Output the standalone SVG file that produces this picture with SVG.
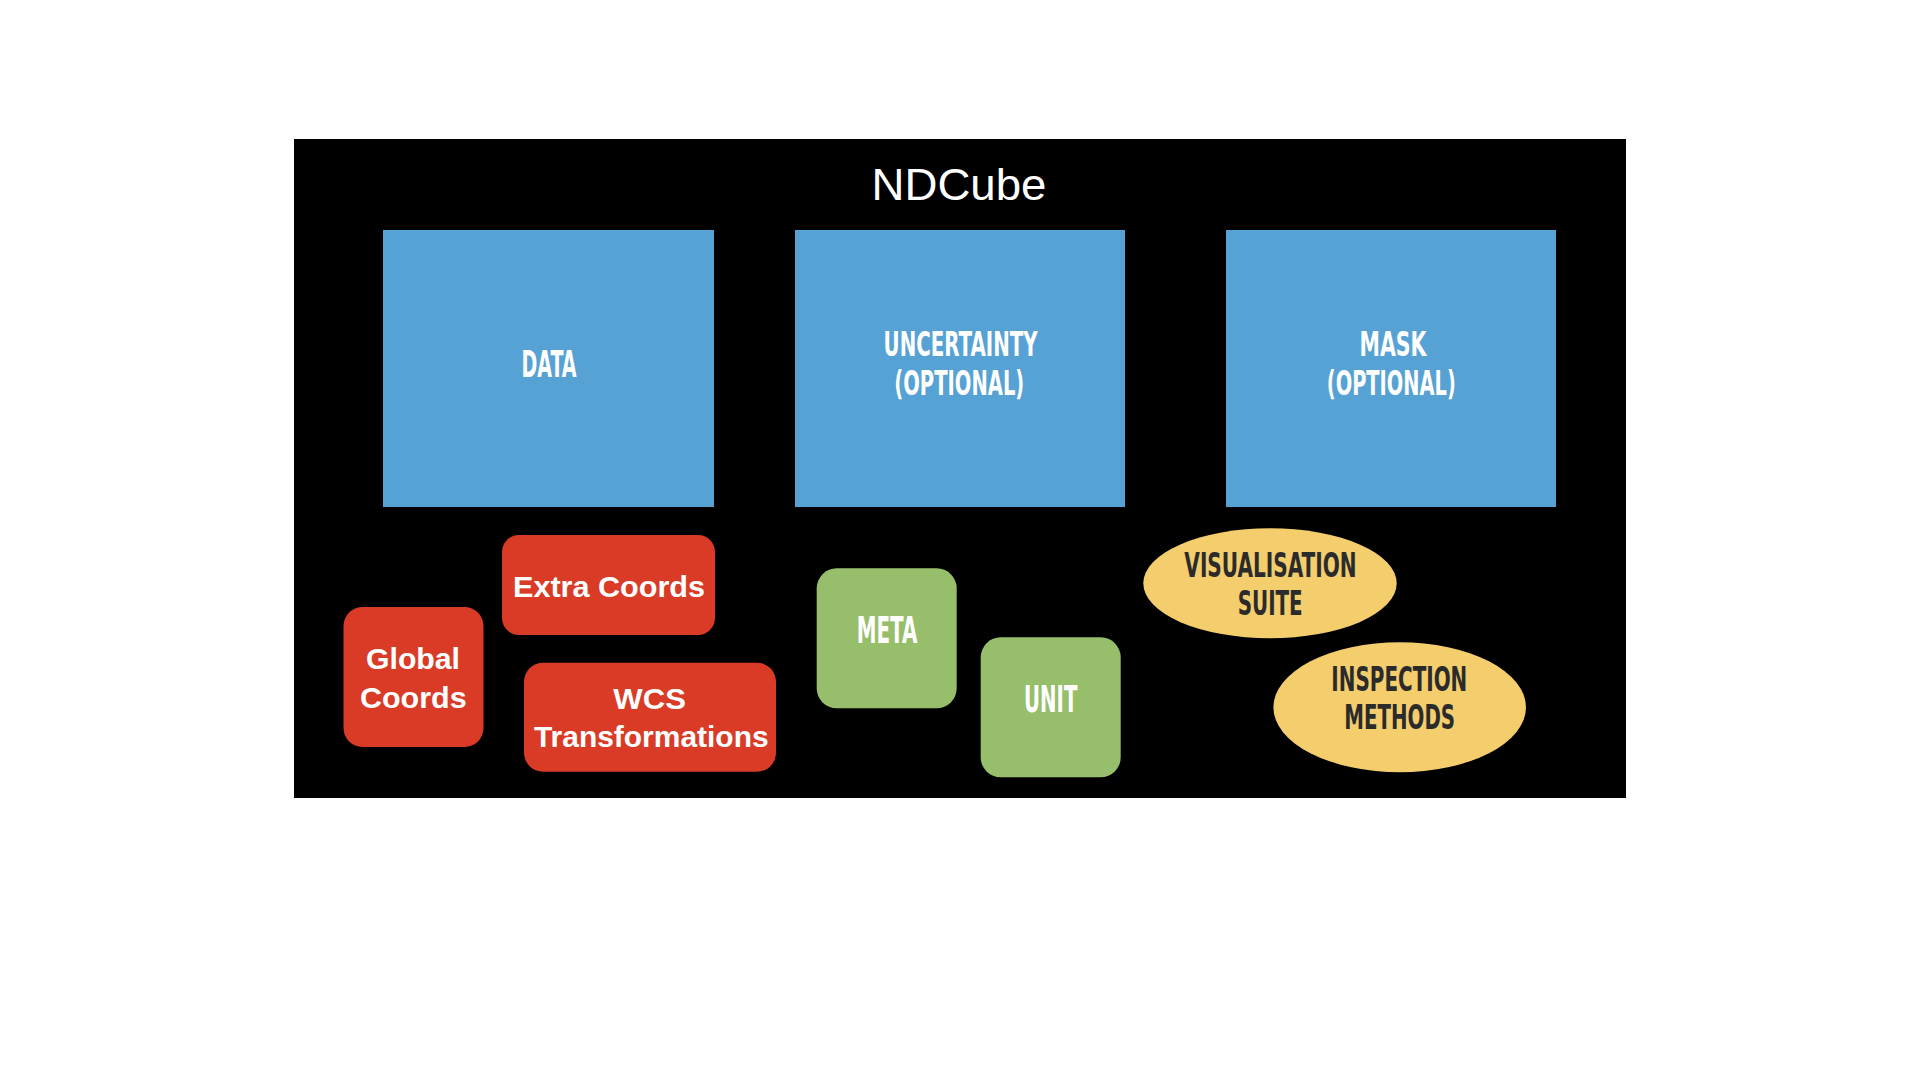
<svg xmlns="http://www.w3.org/2000/svg" width="1920" height="1080" viewBox="0 0 1920 1080">
  <style>
    .blue { fill: #57A2D4; }
    .red { fill: #DA3B27; }
    .green { fill: #97BE6B; }
    .yellow { fill: #F4CD6D; }
    .cond { font-family: "DejaVu Sans", "Liberation Sans", sans-serif; font-weight: bold; font-stretch: condensed; font-size: 37px; text-anchor: middle; }
    .two { font-size: 33px; }
    .light { fill: #FFFFFF; }
    .dark { fill: #2B2B2B; }
    .sans { font-family: "Liberation Sans", Arial, sans-serif; font-weight: bold; font-size: 30px; fill: #FFFFFF; text-anchor: middle; }
    .title { font-family: "Liberation Sans", Arial, sans-serif; font-size: 44px; fill: #FFFFFF; text-anchor: middle; }
  </style>
  <rect x="0" y="0" width="1920" height="1080" fill="#FFFFFF"/>
  <g id="ndcube">
    <rect x="294" y="139" width="1332" height="659" fill="#000000"/>
    <text class="title" x="959" y="200" textLength="175" lengthAdjust="spacingAndGlyphs">NDCube</text>
  </g>
  <g id="data">
    <rect class="blue" x="383" y="230" width="331" height="277"/>
    <text class="cond light" x="549" y="376.7" textLength="55" lengthAdjust="spacingAndGlyphs">DATA</text>
  </g>
  <g id="uncertainty">
    <rect class="blue" x="795" y="230" width="330" height="277"/>
    <text class="cond two light" x="960.6" y="355.8" textLength="154" lengthAdjust="spacingAndGlyphs">UNCERTAINTY</text>
    <text class="cond two light" x="959.3" y="394.5" textLength="130" lengthAdjust="spacingAndGlyphs">(OPTIONAL)</text>
  </g>
  <g id="mask">
    <rect class="blue" x="1226" y="230" width="330" height="277"/>
    <text class="cond two light" x="1393" y="355.8" textLength="67" lengthAdjust="spacingAndGlyphs">MASK</text>
    <text class="cond two light" x="1391.3" y="394.5" textLength="129" lengthAdjust="spacingAndGlyphs">(OPTIONAL)</text>
  </g>
  <g id="extra-coords">
    <rect class="red" x="502" y="535" width="213" height="100" rx="17"/>
    <text class="sans" x="609" y="597" textLength="192" lengthAdjust="spacingAndGlyphs">Extra Coords</text>
  </g>
  <g id="global-coords">
    <rect class="red" x="343.5" y="607" width="140" height="140" rx="19"/>
    <text class="sans" x="413" y="669.3" textLength="94" lengthAdjust="spacingAndGlyphs">Global</text>
    <text class="sans" x="413.3" y="708.3" textLength="106.7" lengthAdjust="spacingAndGlyphs">Coords</text>
  </g>
  <g id="wcs">
    <rect class="red" x="524" y="662.7" width="252" height="109" rx="19"/>
    <text class="sans" x="649.7" y="709.3" textLength="72.7" lengthAdjust="spacingAndGlyphs">WCS</text>
    <text class="sans" x="651.3" y="747.3" textLength="234.7" lengthAdjust="spacingAndGlyphs">Transformations</text>
  </g>
  <g id="meta">
    <rect class="green" x="816.7" y="568.3" width="140" height="140" rx="20"/>
    <text class="cond light" x="887" y="642.7" textLength="60.7" lengthAdjust="spacingAndGlyphs">META</text>
  </g>
  <g id="unit">
    <rect class="green" x="980.7" y="637.3" width="140" height="140" rx="20"/>
    <text class="cond light" x="1050.7" y="712.3" textLength="53.3" lengthAdjust="spacingAndGlyphs">UNIT</text>
  </g>
  <g id="visualisation-suite">
    <ellipse class="yellow" cx="1270" cy="583.3" rx="126.7" ry="55"/>
    <text class="cond two dark" x="1270.5" y="576.8" textLength="172.3" lengthAdjust="spacingAndGlyphs">VISUALISATION</text>
    <text class="cond two dark" x="1270.2" y="614.5" textLength="65" lengthAdjust="spacingAndGlyphs">SUITE</text>
  </g>
  <g id="inspection-methods">
    <ellipse class="yellow" cx="1399.7" cy="707.3" rx="126.3" ry="65"/>
    <text class="cond two dark" x="1399.3" y="691.2" textLength="136" lengthAdjust="spacingAndGlyphs">INSPECTION</text>
    <text class="cond two dark" x="1399.7" y="729.2" textLength="110.7" lengthAdjust="spacingAndGlyphs">METHODS</text>
  </g>
  <g id="connectors"/>
</svg>
